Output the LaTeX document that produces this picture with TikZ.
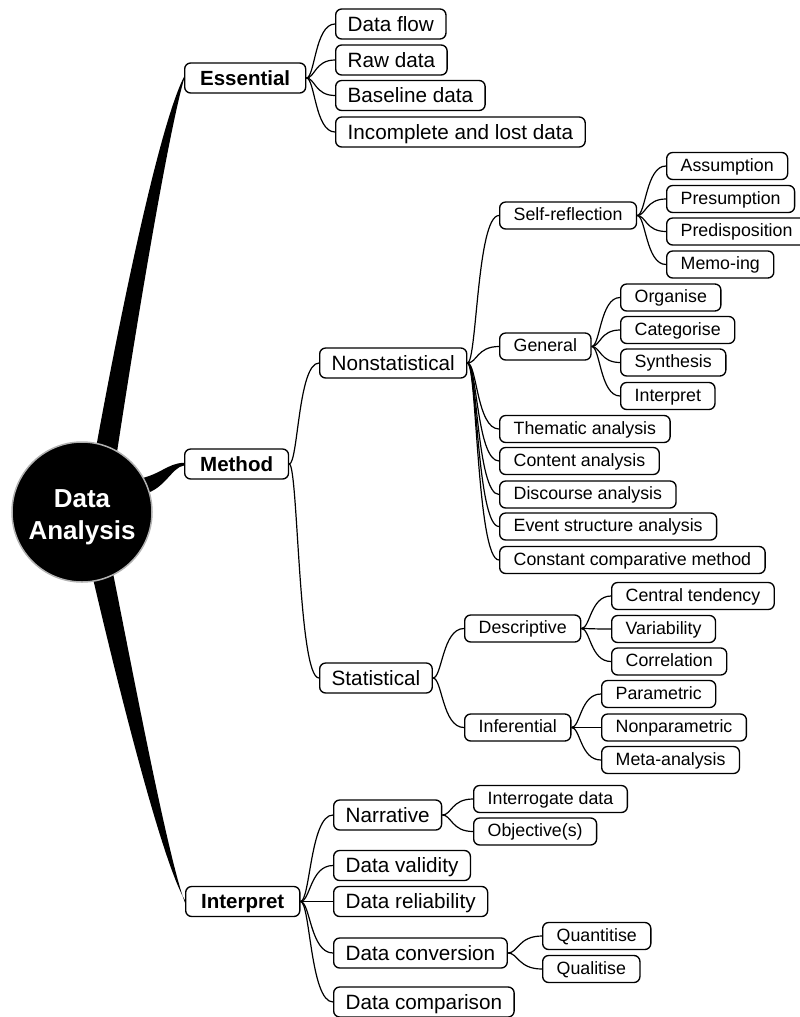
\documentclass[tikz,border=0pt]{standalone}
\usepackage{fontspec}
\setmainfont{Liberation Sans}
\usetikzlibrary{calc}
\newcommand\conn[2]{\draw[link] let \p1=(#1.east), \p2=(#2.west) in (\p1) .. controls ({\x1+0.3*(\x2-\x1)},\y1) and ({\x1+0.3*(\x2-\x1)},\y2) .. (\p2);}
\begin{document}
\begin{tikzpicture}[x=1pt,y=-1pt,
  box/.style={draw=black, line width=1.35pt, rounded corners=6pt, fill=white, anchor=west, inner ysep=0pt},
  l1/.style={box, font=\bfseries\fontsize{20.5}{24}\selectfont, minimum height=30pt, inner xsep=15.5pt, text height=14.7pt, text depth=0pt},
  l2/.style={box, font=\fontsize{20.7}{24}\selectfont, minimum height=30pt, inner xsep=12pt, text height=14.8pt, text depth=0pt},
  l3/.style={box, font=\fontsize{17.8}{21}\selectfont, minimum height=27pt, inner xsep=14pt, text height=12.7pt, text depth=2pt},
  link/.style={draw=black, line width=1.2pt},
  branch/.style={fill=black},
  rootnode/.style={circle, fill=black, draw=gray!60, line width=1.5pt, minimum size=140pt, inner sep=0pt, text=white, align=center, font=\bfseries\fontsize{26}{32}\selectfont}]
\useasboundingbox (0,0) rectangle (800,1017);

% level 1
\node[l1] (ess) at (184,78) {Essential};
\node[l1] (meth) at (184,464) {Method};
\node[l1] (intp) at (185,901.5) {Interpret};

% Essential children
\node[l2] (dflow) at (335,24) {Data flow};
\node[l2] (raw) at (335,60) {Raw data};
\node[l2] (base) at (335,95.5) {Baseline data};
\node[l2] (inc) at (335,132) {Incomplete and lost data};

% Method children
\node[l2] (nonst) at (319,363) {Nonstatistical};
\node[l2] (stat) at (319,678) {Statistical};

\node[l3] (selfr) at (499,215.5) {Self-reflection};
\node[l3] (gen) at (499,346.5) {General};
\node[l3] (them) at (499,429) {Thematic analysis};
\node[l3] (cont) at (499,461) {Content analysis};
\node[l3] (disc) at (499,494.5) {Discourse analysis};
\node[l3] (event) at (499,526.5) {Event structure analysis};
\node[l3] (ccm) at (499,560) {Constant comparative method};

\node[l3] (assum) at (666,166) {Assumption};
\node[l3] (presum) at (666,199) {Presumption};
\node[l3] (predis) at (666,231.5) {Predisposition};
\node[l3] (memo) at (666,264.5) {Memo-ing};

\node[l3] (org) at (620,297.5) {Organise};
\node[l3] (cat) at (620,330) {Categorise};
\node[l3] (syn) at (620,362.5) {Synthesis};
\node[l3] (intl) at (620,396) {Interpret};

\node[l3] (desc) at (464,628.5) {Descriptive};
\node[l3] (infer) at (464,727.5) {Inferential};
\node[l3] (ctend) at (611,596) {Central tendency};
\node[l3] (var) at (611,629) {Variability};
\node[l3] (corr) at (611,661.5) {Correlation};
\node[l3] (param) at (601,694) {Parametric};
\node[l3] (nonp) at (601,727.5) {Nonparametric};
\node[l3] (meta) at (601,760) {Meta-analysis};

% Interpret children
\node[l2] (narr) at (333,815) {Narrative};
\node[l2] (valid) at (333,865.5) {Data validity};
\node[l2] (rel) at (333,901.5) {Data reliability};
\node[l2] (conv) at (333,953) {Data conversion};
\node[l2] (comp) at (333,1002) {Data comparison};
\node[l3] (interr) at (473,799) {Interrogate data};
\node[l3] (obj) at (473,831.5) {Objective(s)};
\node[l3] (quant) at (542,936) {Quantitise};
\node[l3] (qual) at (542,969) {Qualitise};

% connectors
\conn{ess}{dflow}\conn{ess}{raw}\conn{ess}{base}\conn{ess}{inc}
\conn{meth}{nonst}\conn{meth}{stat}
\conn{nonst}{selfr}\conn{nonst}{gen}\conn{nonst}{them}\conn{nonst}{cont}
\conn{nonst}{disc}\conn{nonst}{event}\conn{nonst}{ccm}
\conn{selfr}{assum}\conn{selfr}{presum}\conn{selfr}{predis}\conn{selfr}{memo}
\conn{gen}{org}\conn{gen}{cat}\conn{gen}{syn}\conn{gen}{intl}
\conn{stat}{desc}\conn{stat}{infer}
\conn{desc}{ctend}\conn{desc}{var}\conn{desc}{corr}
\conn{infer}{param}\conn{infer}{nonp}\conn{infer}{meta}
\conn{intp}{narr}\conn{intp}{valid}\conn{intp}{rel}\conn{intp}{conv}\conn{intp}{comp}
\conn{narr}{interr}\conn{narr}{obj}
\conn{conv}{quant}\conn{conv}{qual}

% tapered main branches
\coordinate (rc) at (82,512);
\fill[branch] (92,470) .. controls (117,330) and (158,128) .. ($(ess.west)+(0,-1.2)$)
  -- ($(ess.west)+(0,1.2)$) .. controls (168,134) and (135,332) .. (114,472) -- cycle;
\fill[branch] (138,479) .. controls (160,475) and (168,463) .. ($(meth.west)+(0,-1.2)$)
  -- ($(meth.west)+(0,1.5)$) .. controls (172,467) and (165,489) .. (144,494) -- cycle;
\fill[branch] (91,570) .. controls (117,682) and (162,862) .. ($(intp.west)+(0,-1.2)$)
  -- ($(intp.west)+(0,1.2)$) .. controls (168,858) and (134,678) .. (112,568) -- cycle;

\node[rootnode] (root) at (rc) {\rule{0pt}{28.7pt}Data\\Analysis};
\end{tikzpicture}
\end{document}
